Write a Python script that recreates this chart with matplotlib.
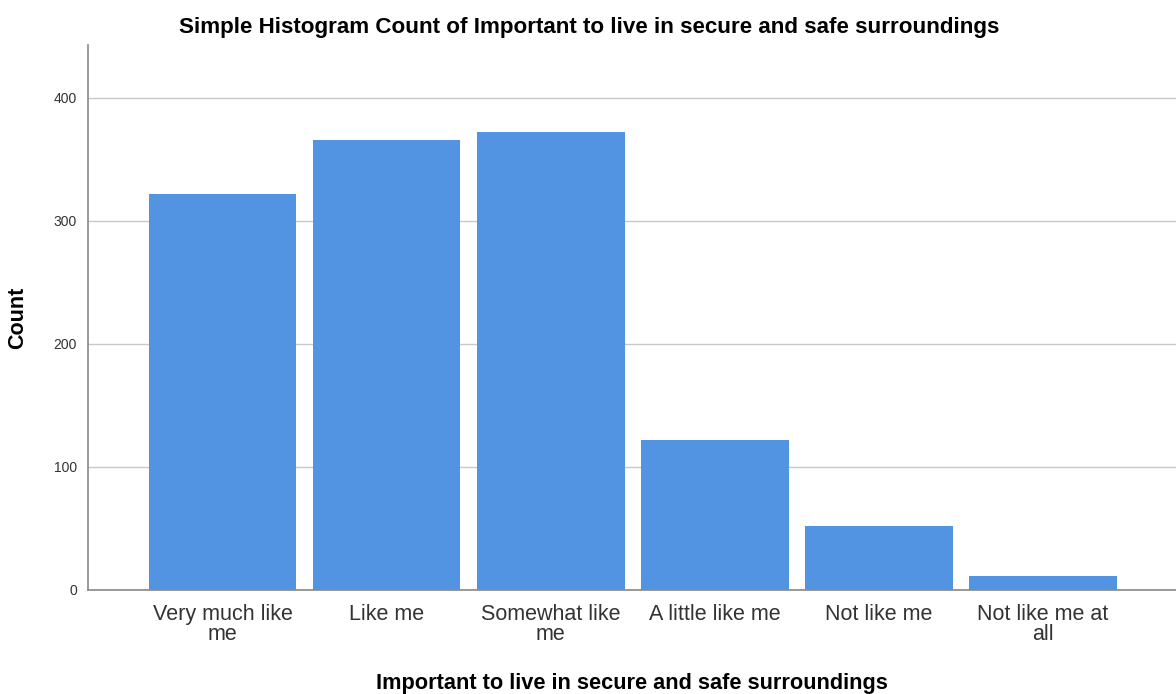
import matplotlib

matplotlib.use("Agg")
import matplotlib.pyplot as plt

categories = ["Very much like\nme", "Like me", "Somewhat like\nme",
              "A little like me", "Not like me", "Not like me at\nall"]
counts = [322, 366, 372, 122, 52, 11]
y_ticks = [0, 100, 200, 300, 400]

plt.rcParams["font.family"] = ["Liberation Sans", "DejaVu Sans"]

fig = plt.figure(figsize=(11.76, 6.94), dpi=100)
ax = fig.add_axes([0.0748, 0.150, 0.9252, 0.785])

x = range(len(categories))
ax.bar(x, counts, width=0.9, color="#5294e2", zorder=3)

ax.set_xlim(-0.82, len(categories) - 1 + 0.81)
ax.set_ylim(0, 443)
ax.set_yticks(y_ticks)
ax.set_xticks(list(x))
ax.set_xticklabels(categories, fontsize=15.5, color="#333333", linespacing=0.95)
ax.tick_params(axis="y", labelsize=10, colors="#333333", length=0, pad=8)
ax.tick_params(axis="x", length=0, pad=10)

ax.grid(axis="y", color="#c8c8c8", linewidth=1.0, zorder=0)
for side in ("top", "right"):
    ax.spines[side].set_visible(False)
for side in ("left", "bottom"):
    ax.spines[side].set_color("#888888")
    ax.spines[side].set_linewidth(1.2)

ax.set_ylabel("Count", fontsize=15.5, fontweight="bold", labelpad=18)
ax.set_xlabel("Important to live in secure and safe surroundings",
              fontsize=15.7, fontweight="bold", labelpad=20)
fig.text(0.501, 0.961, "Simple Histogram Count of Important to live in secure and safe surroundings",
         ha="center", va="center", fontsize=16.1, fontweight="bold")

fig.savefig("out.png", dpi=100)
